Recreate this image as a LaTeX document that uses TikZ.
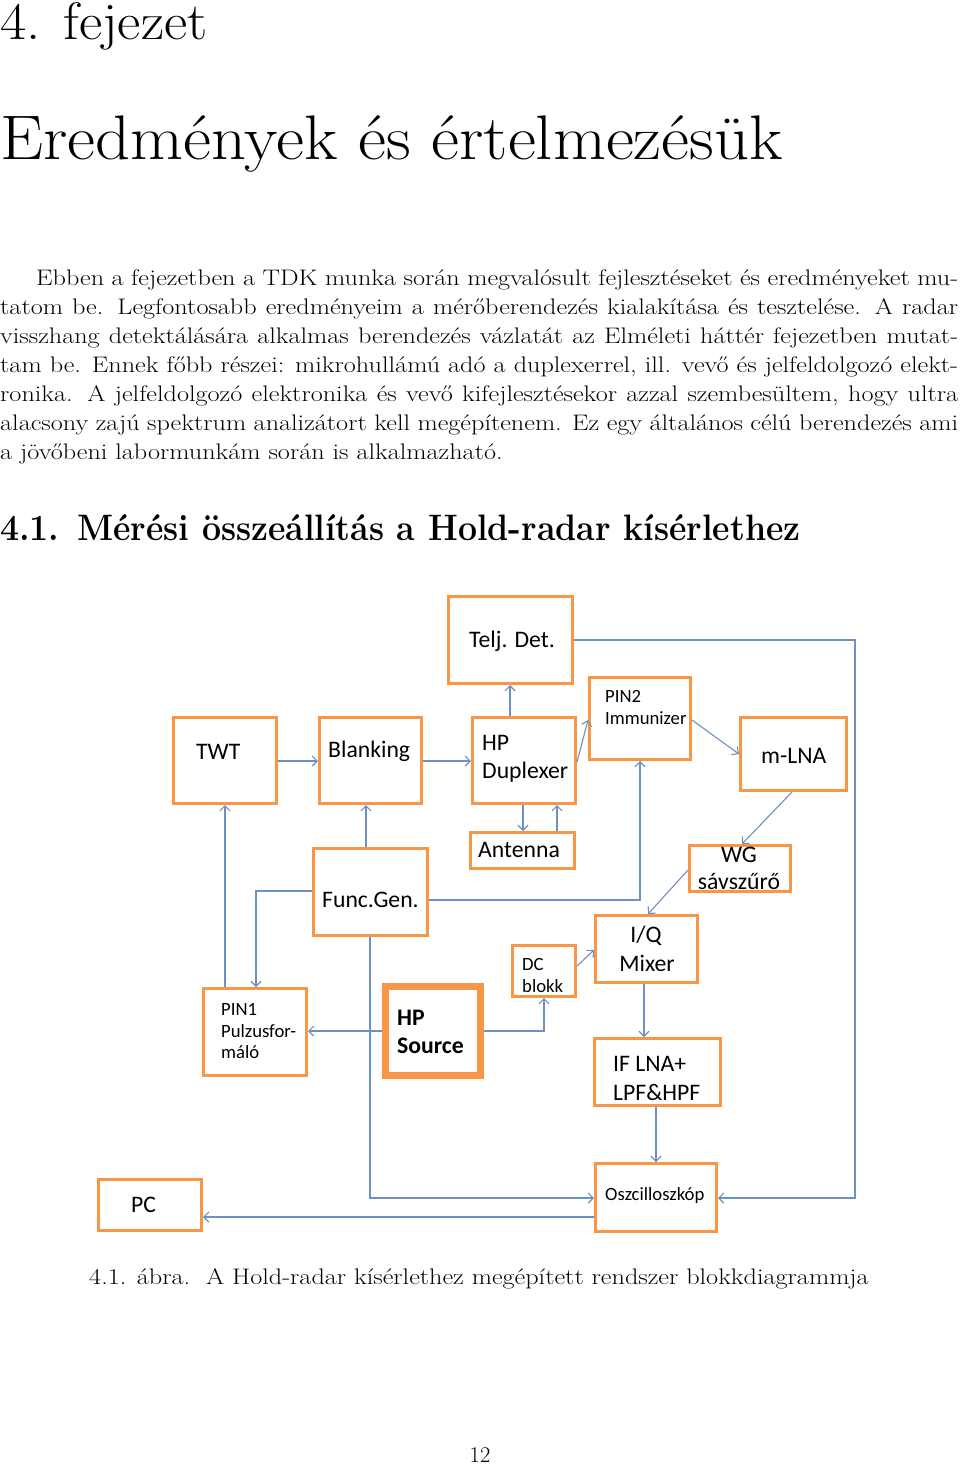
\documentclass[tikz,border=0pt]{standalone}
\usepackage{fontspec}
\usepackage{graphicx}
\newfontfamily\diagfont{Carlito}
\usetikzlibrary{arrows.meta}
\definecolor{boxorange}{HTML}{F79646}
\definecolor{linkblue}{RGB}{110,145,195}
\newcommand\wideline[2]{\scalebox{1.165}[1]{\makebox[#1][s]{#2}}}
\newcommand\widetext[1]{\scalebox{1.165}[1]{#1}}
\begin{document}
\begin{tikzpicture}[x=1pt,y=-1pt,
  bodytxt/.style={font=\fontsize{22.5}{29}\selectfont, inner sep=0, anchor=base west},
  blk/.style={draw=boxorange, line width=3pt, rectangle, inner sep=0, fill=white},
  thickblk/.style={draw=boxorange, line width=7pt, rectangle, inner sep=0, fill=white},
  lbl/.style={font=\diagfont\fontsize{23.7}{28}\selectfont, inner sep=0, anchor=base west},
  smalllbl/.style={font=\diagfont\fontsize{18.7}{22}\selectfont, inner sep=0, anchor=base west},
  conn/.style={draw=linkblue, line width=1.1pt, -{Straight Barb[length=5pt,width=10pt]}}
]
\useasboundingbox[fill=white] (0,0) rectangle (960,1466);

% ---------- page text ----------
\node[inner sep=0, anchor=base west, font=\fontsize{52.7}{60}\selectfont] (chapno) at (0,40) {\scalebox{1.08}[1]{4. fejezet}};
\node[inner sep=0, anchor=base west, font=\fontsize{63}{70}\selectfont] (chaptitle) at (0,160) {\scalebox{1.09}[1]{Eredmények és értelmezésük}};

\node[bodytxt] (l1) at (36,285) {\wideline{791.4pt}{Ebben a fejezetben a TDK munka során megvalósult fejlesztéseket és eredményeket mu-}};
\node[bodytxt] (l2) at (0,314) {\wideline{822.3pt}{tatom be. Legfontosabb eredményeim a mérőberendezés kialakítása és tesztelése. A radar}};
\node[bodytxt] (l3) at (0,343) {\wideline{822.3pt}{visszhang detektálására alkalmas berendezés vázlatát az Elméleti háttér fejezetben mutat-}};
\node[bodytxt] (l4) at (0,372) {\wideline{822.3pt}{tam be. Ennek főbb részei: mikrohullámú adó a duplexerrel, ill. vevő és jelfeldolgozó elekt-}};
\node[bodytxt] (l5) at (0,401) {\wideline{822.3pt}{ronika. A jelfeldolgozó elektronika és vevő kifejlesztésekor azzal szembesültem, hogy ultra}};
\node[bodytxt] (l6) at (0,430) {\wideline{822.3pt}{alacsony zajú spektrum analizátort kell megépítenem. Ez egy általános célú berendezés ami}};
\node[bodytxt] (l7) at (0,459) {\widetext{a jövőbeni labormunkám során is alkalmazható.}};

\node[inner sep=0, anchor=base west, font=\fontsize{36.8}{44}\selectfont\bfseries] (sect) at (0,540) {\scalebox{0.92}[1]{4.1.\hspace{19.5pt}Mérési összeállítás a Hold-radar kísérlethez}};

\node[bodytxt, anchor=base] (caption) at (479,1284) {\widetext{4.1. ábra.\ \ A Hold-radar kísérlethez megépített rendszer blokkdiagrammja}};
\node[bodytxt, anchor=base] (pageno) at (480,1462) {12};

% ---------- diagram boxes ----------
\node[blk, minimum width=124pt, minimum height=87pt] (telj) at (510.5,640) {};
\node[blk, minimum width=103pt, minimum height=86pt] (twt) at (225,760.5) {};
\node[blk, minimum width=102pt, minimum height=86pt] (blank) at (370.5,760.5) {};
\node[blk, minimum width=103pt, minimum height=86pt] (dup) at (524,760.5) {};
\node[blk, minimum width=101pt, minimum height=82pt] (pin2) at (640,718.5) {};
\node[blk, minimum width=106pt, minimum height=73pt] (mlna) at (793.5,754) {};
\node[blk, minimum width=104pt, minimum height=36pt] (ant) at (522.5,850.5) {};
\node[blk, minimum width=101pt, minimum height=46pt] (wg) at (740,868.5) {};
\node[blk, minimum width=114pt, minimum height=87pt] (func) at (370.5,892) {};
\node[blk, minimum width=102pt, minimum height=67pt] (iq) at (646.5,949) {};
\node[blk, minimum width=63pt, minimum height=51pt] (dc) at (544,971) {};
\node[blk, minimum width=103pt, minimum height=87pt] (pin1) at (255,1032) {};
\node[thickblk, minimum width=95pt, minimum height=89pt] (src) at (433,1031) {};
\node[blk, minimum width=126pt, minimum height=67pt] (iflna) at (657.5,1072) {};
\node[blk, minimum width=103pt, minimum height=51pt] (pc) at (150,1205) {};
\node[blk, minimum width=121pt, minimum height=68pt] (osc) at (656,1197.5) {};

% ---------- box labels ----------
\node[lbl] (tTelj) at (469,647) {Telj. Det.};
\node[lbl] (tTwt) at (196,759) {TWT};
\node[lbl] (tBlank) at (328,757) {Blanking};
\node[lbl] (tDup1) at (482,750) {HP};
\node[lbl] (tDup2) at (482,778) {Duplexer};
\node[smalllbl] (tPin2a) at (605,702) {PIN2};
\node[smalllbl] (tPin2b) at (605,724) {Immunizer};
\node[lbl] (tMlna) at (761,763) {m-LNA};
\node[lbl] (tAnt) at (478,857) {Antenna};
\node[lbl, anchor=base] (tWg1) at (739,862) {WG};
\node[lbl, anchor=base] (tWg2) at (739,889) {sávszűrő};
\node[lbl] (tFunc) at (322,907) {Func.Gen.};
\node[lbl, anchor=base] (tIq1) at (646,942) {I/Q};
\node[lbl, anchor=base] (tIq2) at (647,971) {Mixer};
\node[smalllbl] (tDc1) at (522,970) {DC};
\node[smalllbl] (tDc2) at (522,992) {blokk};
\node[smalllbl] (tPin1a) at (221,1015) {PIN1};
\node[smalllbl] (tPin1b) at (221,1037) {Pulzusfor-};
\node[smalllbl] (tPin1c) at (221,1058) {máló};
\node[lbl, font=\diagfont\bfseries\fontsize{23.7}{28}\selectfont] (tSrc1) at (397,1025) {HP};
\node[lbl, font=\diagfont\bfseries\fontsize{23.7}{28}\selectfont] (tSrc2) at (397,1053) {Source};
\node[lbl] (tIf1) at (613,1071) {IF LNA+};
\node[lbl] (tIf2) at (613,1100) {LPF\&HPF};
\node[lbl] (tPc) at (131,1212) {PC};
\node[smalllbl] (tOsc) at (605,1200) {Oszcilloszkóp};

% ---------- connectors ----------
\coordinate (rc) at (855,1198);
\draw[conn] (twt.east |- 0,761) -- (blank.west |- 0,761);
\draw[conn] (blank.east |- 0,761) -- (dup.west |- 0,761);
\draw[conn] (dup.north -| 510,0) -- (telj.south -| 510,0);
\draw[conn] (dup.east |- 0,762) -- (pin2.west |- 0,720);
\draw[conn] (pin2.east |- 0,720) -- (mlna.west |- 0,754);
\draw[conn] (mlna.south -| 792,0) -- (wg.north -| 742,0);
\draw[conn] (wg.west |- 0,870) -- (iq.north -| 648,0);
\draw[conn] (iq.south -| 644,0) -- (iflna.north -| 644,0);
\draw[conn] (iflna.south -| 656,0) -- (osc.north -| 656,0);
\draw[conn] (osc.west |- 0,1217) -- (pc.east |- 0,1217);
\draw[conn] (telj.east |- 0,640) -| (rc) -- (osc.east |- rc);
\draw[conn] (func.south -| 370,0) |- (osc.west |- rc);
\draw[conn] (func.east |- 0,900) -| (pin2.south);
\draw[conn] (func.north -| 366,0) -- (blank.south -| 366,0);
\draw[conn] (func.west |- 0,891) -| (pin1.north -| 256,0);
\draw[conn] (pin1.north -| 225,0) -- (twt.south -| 225,0);
\draw[conn] (src.west |- 0,1031) -- (pin1.east |- 0,1031);
\draw[conn] (src.east |- 0,1031) -| (dc.south);
\draw[conn] (dc.east |- 0,966) -- (iq.west |- 0,950);
\draw[conn] (dup.south -| 523,0) -- (ant.north -| 523,0);
\draw[conn] (ant.north -| 557,0) -- (dup.south -| 557,0);
\end{tikzpicture}
\end{document}
